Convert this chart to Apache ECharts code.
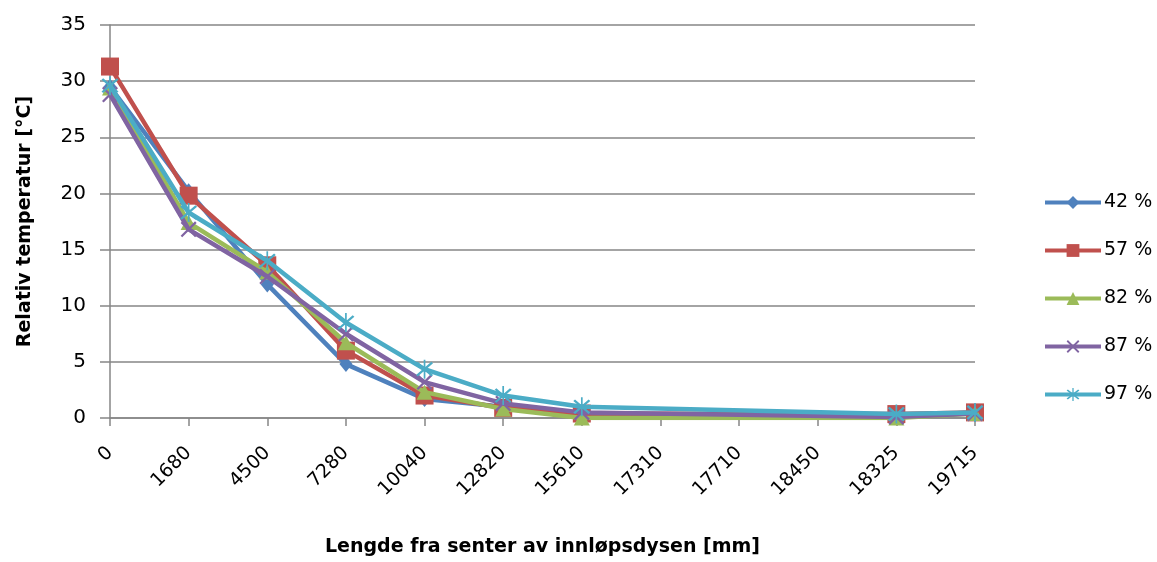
<!DOCTYPE html>
<html>
<head>
<meta charset="utf-8">
<script src="https://cdn.jsdelivr.net/npm/echarts@6/dist/echarts.min.js"></script>
<style>html,body{margin:0;padding:0;background:#fff}#c{width:1157px;height:562px}</style>
</head>
<body>
<div id="c"></div>
<script>
const categories = ['0','1680','4500','7280','10040','12820','15610','17310','17710','18450','18325','19715'];
const yTicks = [0,5,10,15,20,25,30,35];
const s42 = [29.5, 20.2, 11.9, 4.8, 1.7, 1.0, 0.3, null, null, null, 0.2, 0.5];
const s57 = [31.3, 19.8, 13.6, 6.0, 2.0, 0.9, 0.4, null, null, null, 0.35, 0.5];
const s82 = [29.4, 17.4, 13.0, 6.7, 2.3, 0.8, 0.0, null, null, null, 0.0, 0.4];
const s87 = [28.8, 16.8, 12.6, 7.5, 3.2, 1.3, 0.5, null, null, null, 0.1, 0.4];
const s97 = [29.6, 18.3, 14.0, 8.5, 4.35, 2.0, 1.0, null, null, null, 0.35, 0.5];
const names = ['42 %','57 %','82 %','87 %','97 %'];

const colors = ['#4F81BD','#C0504D','#9BBB59','#8064A2','#4BACC6'];
const xPath = 'path://M0,1L1,0L10,9L9,10Z M9,0L10,1L1,10L0,9Z';
const starPath = 'path://M0,1L1,0L10,9L9,10Z M9,0L10,1L1,10L0,9Z M4.5,-1.5L5.5,-1.5L5.5,11.5L4.5,11.5Z';
const symbols = ['diamond','rect','triangle',xPath,starPath];
const sizes = [[13,16],18,[16,15],16,[17,19]];
const dataSets = [s42,s57,s82,s87,s97];
const font = '"DejaVu Sans", sans-serif';

const chart = echarts.init(document.getElementById('c'));
chart.setOption({
  animation: false,
  color: colors,
  grid: {left: 110, right: 182, top: 25, bottom: 143},
  legend: {
    orient: 'vertical', left: 1038, top: 188, itemGap: 29,
    itemWidth: 56, itemHeight: 16,
    lineStyle: {width: 4},
    textStyle: {fontFamily: font, fontSize: 19, color: '#000', padding: [0,0,0,-2]},
    data: names
  },
  xAxis: {
    type: 'category', data: categories, boundaryGap: false,
    axisLine: {lineStyle: {color: '#868686', width: 1.5}},
    axisTick: {show: true, length: 8, alignWithLabel: true, lineStyle: {color: '#868686', width: 1.5}},
    axisLabel: {rotate: 45, interval: 0, fontFamily: font, fontSize: 19, color: '#000', margin: 32},
    name: 'Lengde fra senter av innløpsdysen [mm]', nameLocation: 'middle', nameGap: 120,
    nameTextStyle: {fontFamily: font, fontSize: 19, color: '#000', fontWeight: 'bold'}
  },
  yAxis: {
    type: 'value', min: 0, max: 35, interval: 5,
    axisLine: {show: true, lineStyle: {color: '#868686', width: 1.5}},
    axisTick: {show: true, length: 10, inside: false, lineStyle: {color: '#868686', width: 1.5}},
    splitLine: {lineStyle: {color: '#868686', width: 1.5}},
    axisLabel: {fontFamily: font, fontSize: 20, color: '#000', margin: 24,
      formatter: v => yTicks.includes(v) ? String(v) : ''},
    name: 'Relativ temperatur [°C]', nameLocation: 'middle', nameGap: 75,
    nameTextStyle: {fontFamily: font, fontSize: 19, color: '#000', fontWeight: 'bold'}
  },
  series: dataSets.map((d, i) => ({
    name: names[i], type: 'line', data: d, connectNulls: true,
    symbol: symbols[i], symbolSize: sizes[i], showSymbol: true,
    lineStyle: {width: 4.5, color: colors[i]},
    itemStyle: {color: colors[i], borderWidth: 0},
    z: 2 + i
  }))
});
</script>
</body>
</html>
